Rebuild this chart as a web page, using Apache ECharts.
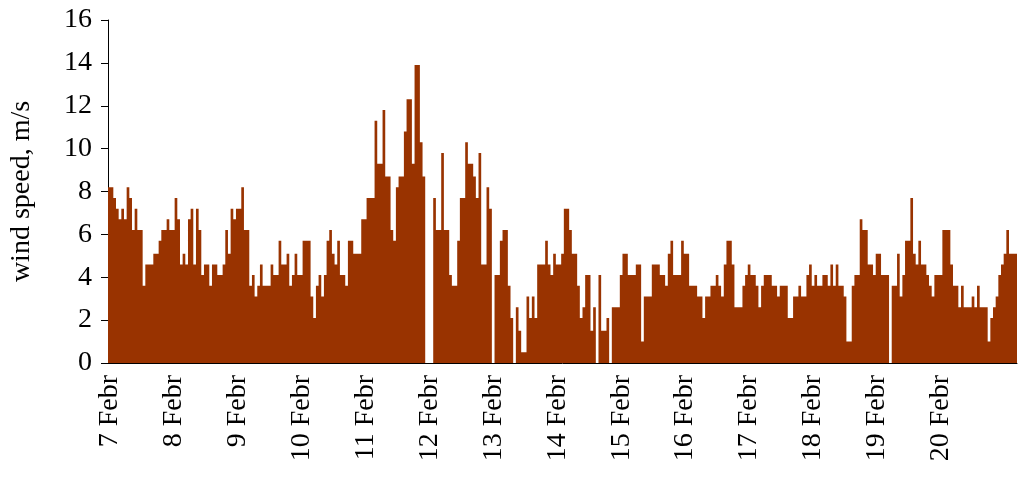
<!DOCTYPE html>
<html>
<head>
<meta charset="utf-8">
<script src="https://cdn.jsdelivr.net/npm/echarts@6/dist/echarts.min.js"></script>
<style>
  html, body { margin: 0; padding: 0; background: #fff; }
  #chart { width: 1018px; height: 480px; }
</style>
</head>
<body>
<div id="chart"></div>
<script>
  // day labels, one bar per hour
  const days = ['7 Febr', '8 Febr', '9 Febr', '10 Febr', '11 Febr', '12 Febr', '13 Febr',
    '14 Febr', '15 Febr', '16 Febr', '17 Febr', '18 Febr', '19 Febr', '20 Febr', '21 Febr'];
  const yTicks = [0, 2, 4, 6, 8, 10, 12, 14, 16];

  // hourly wind speed, m/s
  const feb07 = [8.2, 8.2, 7.7, 7.2, 6.7, 7.2, 6.7, 8.2, 7.7, 6.2, 7.2, 6.2, 6.2, 3.6, 4.6, 4.6, 4.6, 5.1, 5.1, 5.7, 6.2, 6.2, 6.7, 6.2];
  const feb08 = [6.2, 7.7, 6.7, 4.6, 5.1, 4.6, 6.7, 7.2, 4.6, 7.2, 6.2, 4.1, 4.6, 4.6, 3.6, 4.6, 4.6, 4.1, 4.1, 4.6, 6.2, 5.1, 7.2, 6.7];
  const feb09 = [7.2, 7.2, 8.2, 6.2, 6.2, 3.6, 4.1, 3.1, 3.6, 4.6, 3.6, 3.6, 3.6, 4.6, 4.1, 4.1, 5.7, 4.6, 4.6, 5.1, 3.6, 4.1, 5.1, 4.1];
  const feb10 = [4.1, 5.7, 5.7, 5.7, 3.1, 2.1, 3.6, 4.1, 3.1, 4.1, 5.7, 6.2, 5.1, 4.6, 5.7, 4.1, 4.1, 3.6, 5.7, 5.7, 5.1, 5.1, 5.1, 6.7];
  const feb11 = [6.7, 7.7, 7.7, 7.7, 11.3, 9.3, 9.3, 11.8, 8.7, 8.7, 6.2, 5.7, 8.2, 8.7, 8.7, 10.8, 12.3, 12.3, 9.3, 13.9, 13.9, 10.3, 8.7, 0];
  const feb12 = [0, 0, 7.7, 6.2, 6.2, 9.8, 6.2, 6.2, 4.1, 3.6, 3.6, 5.7, 7.7, 7.7, 10.3, 9.3, 9.3, 8.7, 7.7, 9.8, 4.6, 4.6, 8.2, 7.2];
  const feb13 = [0, 4.1, 4.1, 5.7, 6.2, 6.2, 3.6, 2.1, 0, 2.6, 1.5, 0.5, 0.5, 3.1, 2.1, 3.1, 2.1, 4.6, 4.6, 4.6, 5.7, 4.6, 4.1, 5.1];
  const feb14 = [4.6, 4.6, 5.1, 7.2, 7.2, 6.2, 5.1, 5.1, 3.6, 2.1, 2.6, 4.1, 4.1, 1.5, 2.6, 0, 4.1, 1.5, 1.5, 2.1, 0, 2.6, 2.6, 2.6];
  const feb15 = [4.1, 5.1, 5.1, 4.1, 4.1, 4.1, 4.6, 4.6, 1.0, 3.1, 3.1, 3.1, 4.6, 4.6, 4.6, 4.1, 4.1, 3.6, 5.1, 5.7, 4.1, 4.1, 4.1, 5.7];
  const feb16 = [5.1, 5.1, 3.6, 3.6, 3.6, 3.1, 3.1, 2.1, 3.1, 3.1, 3.6, 3.6, 4.1, 3.6, 3.1, 4.6, 5.7, 5.7, 4.6, 2.6, 2.6, 2.6, 3.6, 4.1];
  const feb17 = [4.6, 4.1, 4.1, 3.6, 2.6, 3.6, 4.1, 4.1, 4.1, 3.6, 3.6, 3.1, 3.6, 3.6, 3.6, 2.1, 2.1, 3.1, 3.1, 3.6, 3.1, 3.1, 4.1, 4.6];
  const feb18 = [3.6, 4.1, 3.6, 3.6, 4.1, 4.1, 3.6, 4.6, 3.6, 4.6, 3.6, 3.6, 3.1, 1.0, 1.0, 3.6, 4.1, 4.1, 6.7, 6.2, 6.2, 4.6, 4.6, 4.1];
  const feb19 = [5.1, 5.1, 4.1, 4.1, 4.1, 0, 3.6, 3.6, 5.1, 3.1, 4.1, 5.7, 5.7, 7.7, 5.1, 4.6, 5.7, 4.6, 4.6, 4.1, 3.6, 3.1, 4.1, 4.1];
  const feb20 = [4.1, 6.2, 6.2, 6.2, 4.6, 3.6, 3.6, 2.6, 3.6, 2.6, 2.6, 2.6, 3.1, 2.6, 3.6, 2.6, 2.6, 2.6, 1.0, 2.1, 2.6, 3.1, 4.1, 4.6];
  const feb21 = [5.1, 6.2, 5.1, 5.1, 5.1];

  const windByDay = [feb07, feb08, feb09, feb10, feb11, feb12, feb13, feb14,
    feb15, feb16, feb17, feb18, feb19, feb20, feb21];

  // flatten into one category per hour
  const categories = [];
  const speeds = [];
  windByDay.forEach((vals, d) => {
    vals.forEach((v, h) => {
      categories.push(days[d] + '|' + h);
      speeds.push(v);
    });
  });

  const font = "'Liberation Serif', 'Times New Roman', serif";
  const barColor = '#993300';
  const chart = echarts.init(document.getElementById('chart'), null, { renderer: 'canvas' });
  chart.setOption({
    animation: false,
    grid: { left: 107, right: 1, top: 20, bottom: 117 },
    xAxis: {
      type: 'category',
      data: categories,
      boundaryGap: true,
      axisLine: { show: true, lineStyle: { color: '#000', width: 1 } },
      axisTick: { show: false },
      axisLabel: {
        rotate: 90,
        margin: 12,
        color: '#000',
        fontFamily: font,
        fontSize: 28,
        interval: (index) => index % 24 === 0 && index < 336,
        formatter: (value) => value.split('|')[0]
      },
      splitLine: { show: false }
    },
    yAxis: {
      type: 'value',
      min: yTicks[0],
      max: yTicks[yTicks.length - 1],
      interval: yTicks[1] - yTicks[0],
      name: 'wind speed, m/s',
      nameLocation: 'middle',
      nameGap: 72,
      nameTextStyle: { color: '#000', fontFamily: font, fontSize: 28 },
      axisLine: { show: true, lineStyle: { color: '#000', width: 1 } },
      axisTick: { show: true, length: 7, lineStyle: { color: '#000' } },
      axisLabel: { color: '#000', fontFamily: font, fontSize: 28, margin: 16 },
      splitLine: { show: false }
    },
    series: [{
      type: 'bar',
      data: speeds,
      barCategoryGap: '0%',
      // large mode draws all bars as one path, so no seams between them
      large: true,
      largeThreshold: 100,
      itemStyle: { color: barColor }
    }]
  });
</script>
</body>
</html>
